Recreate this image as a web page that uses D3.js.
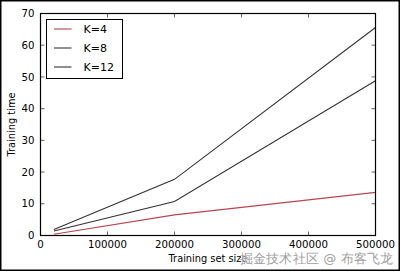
<!DOCTYPE html>
<html>
<head>
<meta charset="utf-8">
<script src="https://cdn.jsdelivr.net/npm/d3@7"></script>
<style>
  body { margin: 0; background: #fff; }
  svg text { font-family: "DejaVu Sans", sans-serif; }
</style>
</head>
<body>
<div id="chartContainer"></div>
<script>
var sizes   = [20000, 200000, 500000];
var seriesNames = ["K=4", "K=8", "K=12"];
var k4  = [0.4, 6.5, 13.6];
var k8  = [1.4, 10.7, 48.8];
var k12 = [1.9, 17.7, 65.6];
var xTicks = [0, 100000, 200000, 300000, 400000, 500000];
var yTicks = [0, 10, 20, 30, 40, 50, 60, 70];
var colors = ["#b8454f", "#333333", "#333333"];
var watermark = "掘金技术社区 @ 布客飞龙";

var series = [k4, k8, k12];

var W = 402, H = 273;
var margin = {top: 13.5, right: 26.5, bottom: 37.5, left: 40.5},
    width = 375.5 - margin.left,
    height = 235.5 - margin.top;

var root = d3.select("#chartContainer")
  .append("svg")
    .attr("width", W)
    .attr("height", H);

// outer figure frame
root.append("rect")
  .attr("x", 0.75).attr("y", 0.75)
  .attr("width", 398.5).attr("height", 269.5)
  .attr("fill", "#fff")
  .attr("stroke", "#000")
  .attr("stroke-width", 1.5);

var svg = root.append("g")
  .attr("transform", "translate(" + margin.left + "," + margin.top + ")");

var x = d3.scaleLinear().domain([0, 500000]).range([0, width]);
var y = d3.scaleLinear().domain([0, 70]).range([height, 0]);

// ticks inside on all four sides
var tl = 4;
svg.append("g").selectAll("line").data(xTicks).join("line")
  .attr("x1", d => x(d)).attr("x2", d => x(d))
  .attr("y1", height).attr("y2", height - tl)
  .attr("stroke", "#000").attr("stroke-width", 0.6);
svg.append("g").selectAll("line").data(xTicks).join("line")
  .attr("x1", d => x(d)).attr("x2", d => x(d))
  .attr("y1", 0).attr("y2", tl)
  .attr("stroke", "#000").attr("stroke-width", 0.6);
svg.append("g").selectAll("line").data(yTicks).join("line")
  .attr("x1", 0).attr("x2", tl)
  .attr("y1", d => y(d)).attr("y2", d => y(d))
  .attr("stroke", "#000").attr("stroke-width", 0.6);
svg.append("g").selectAll("line").data(yTicks).join("line")
  .attr("x1", width).attr("x2", width - tl)
  .attr("y1", d => y(d)).attr("y2", d => y(d))
  .attr("stroke", "#000").attr("stroke-width", 0.6);

// tick labels
svg.append("g").selectAll("text").data(xTicks).join("text")
  .attr("x", d => x(d)).attr("y", height + 12)
  .attr("text-anchor", "middle")
  .attr("font-size", 10.2)
  .attr("fill", "#000")
  .text(d => d);
svg.append("g").selectAll("text").data(yTicks).join("text")
  .attr("x", -6).attr("y", d => y(d))
  .attr("dy", "0.36em")
  .attr("text-anchor", "end")
  .attr("font-size", 10.2)
  .attr("fill", "#000")
  .text(d => d);

// lines
var line = d3.line()
  .x((d, i) => x(sizes[i]))
  .y(d => y(d));
svg.append("g").selectAll("path").data(series).join("path")
  .attr("fill", "none")
  .attr("stroke", (d, i) => colors[i])
  .attr("stroke-width", 1.1)
  .attr("d", line);

// axes frame
svg.append("rect")
  .attr("width", width).attr("height", height)
  .attr("fill", "none")
  .attr("stroke", "#000")
  .attr("stroke-width", 1.2);

// axis labels
svg.append("text")
  .attr("x", width / 2).attr("y", height + 26.5)
  .attr("text-anchor", "middle")
  .attr("font-size", 9.8)
  .text("Training set size");
svg.append("text")
  .attr("transform", "translate(" + (-25.5) + "," + (height / 2) + ") rotate(-90)")
  .attr("text-anchor", "middle")
  .attr("font-size", 9.8)
  .text("Training time");

// legend
var lg = svg.append("g").attr("transform", "translate(6,6)");
lg.append("rect")
  .attr("width", 76).attr("height", 59)
  .attr("fill", "#fff")
  .attr("stroke", "#000")
  .attr("stroke-width", 1);
var rows = lg.selectAll("g").data(seriesNames).join("g")
  .attr("transform", (d, i) => "translate(0," + (9.5 + i * 19) + ")");
rows.append("line")
  .attr("x1", 7.5).attr("x2", 25)
  .attr("stroke", (d, i) => colors[i])
  .attr("stroke-width", 1.1);
rows.append("text")
  .attr("x", 37).attr("dy", "0.36em")
  .attr("font-size", 11)
  .text(d => d);

// watermark
root.append("text")
  .attr("x", 240).attr("y", 262.5)
  .attr("font-family", "'Noto Sans CJK SC', sans-serif")
  .attr("font-size", 13)
  .attr("textLength", 153)
  .attr("lengthAdjust", "spacing")
  .attr("fill", "#a0a0a0")
  .attr("stroke", "#fff")
  .attr("stroke-width", 0.4)
  .attr("paint-order", "stroke")
  .text(watermark);
</script>
</body>
</html>
